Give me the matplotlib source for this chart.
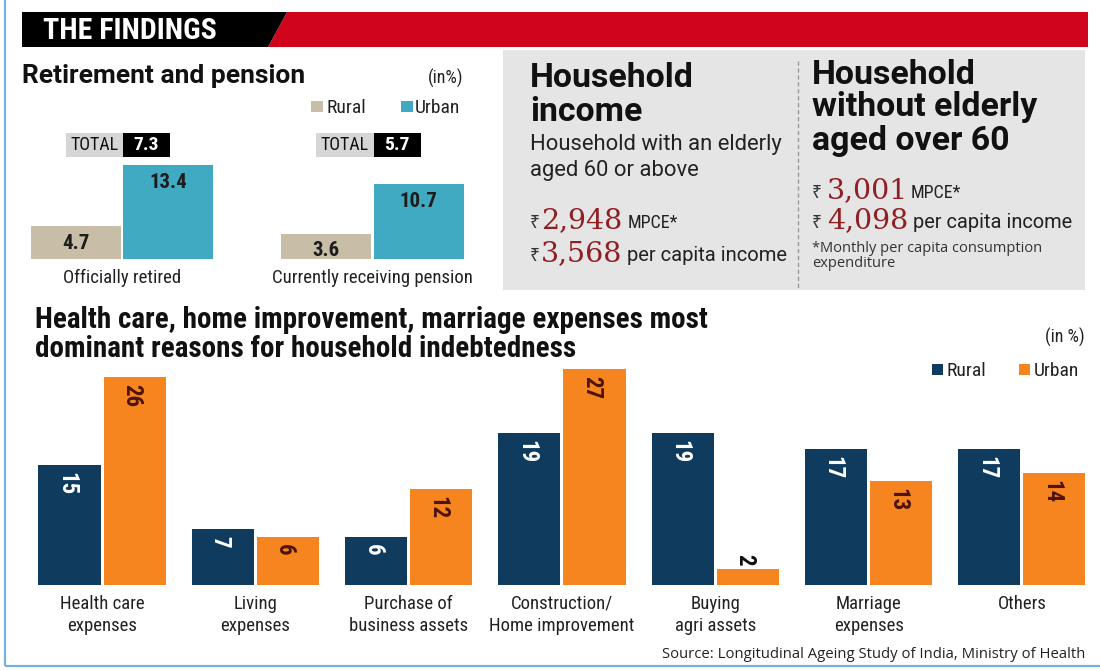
import matplotlib
matplotlib.use('Agg')
import matplotlib.pyplot as plt
from matplotlib import font_manager as fm
from matplotlib.patches import Rectangle, Polygon
import numpy as np

# ---------------- data ----------------
ret_categories = ['Officially retired', 'Currently receiving pension']
ret_rural = [4.7, 3.6]
ret_urban = [13.4, 10.7]
ret_total = [7.3, 5.7]

debt_categories = ['Health care\nexpenses', 'Living\nexpenses', 'Purchase of\nbusiness assets',
                   'Construction/\nHome improvement', 'Buying\nagri assets', 'Marriage\nexpenses', 'Others']
debt_rural = [15, 7, 6, 19, 19, 17, 17]
debt_urban = [26, 6, 12, 27, 2, 13, 14]

income_headings = ['Household\nincome', 'Household\nwithout elderly\naged over 60']
income_subtitle = 'Household with an elderly\naged 60 or above'
mpce = [2948, 3001]
per_capita_income = [3568, 4098]

# ---------------- fonts ----------------
avail = {f.name for f in fm.fontManager.ttflist}
def pick(*names):
    for n in names:
        if n in avail:
            return n
    return 'DejaVu Sans'

COND = pick('Liberation Sans Narrow', 'Roboto Condensed', 'Liberation Sans')
BOLD = pick('Roboto', 'Open Sans', 'Lato')
REG = pick('Roboto', 'Open Sans', 'Lato')
SMALL = pick('Open Sans', 'Noto Sans', 'Roboto')
SERIF = pick('DejaVu Serif', 'Liberation Serif')
RUPEE = [pick('Noto Sans', 'DejaVu Sans'), 'DejaVu Sans']

NAVY = '#0f3b5f'
ORANGE = '#f6851f'
TAN = '#c8bda6'
TEAL = '#3faac2'
RED = '#d0051c'
GRAY = '#e5e5e5'
MONEY = '#8f1f23'
URB_LBL = '#4e1407'
BORDER = '#7aaee0'

W, H = 1100, 671
fig = plt.figure(figsize=(11, 6.71), dpi=100)
fig.patch.set_facecolor('white')
bg = fig.add_axes([0, 0, 1, 1], zorder=0)
bg.set_xlim(0, W)
bg.set_ylim(H, 0)
bg.axis('off')
renderer = fig.canvas.get_renderer()

def width(t):
    return t.get_window_extent(renderer=renderer).width

def fit(t, target):
    t.set_fontsize(t.get_fontsize() * target / width(t))
    return t.get_fontsize()

def seq(x, y, parts):
    for s, kw, gap, target in parts:
        t = bg.text(x, y, s, va='baseline', ha='left', **kw)
        if target:
            fit(t, target)
        x += width(t) + gap

# ---------------- frame & header ----------------
bg.plot([5, 5], [0, 666], color=BORDER, lw=1.6, solid_capstyle='butt')
bg.plot([5, 1100], [666, 666], color=BORDER, lw=1.6, solid_capstyle='butt')
bg.add_patch(Polygon([(287, 12), (1088, 12), (1088, 47), (268, 47)], closed=True, color=RED, lw=0))
bg.add_patch(Polygon([(22, 12), (287, 12), (268, 47), (22, 47)], closed=True, color='black', lw=0))
t = bg.text(43, 39, 'THE FINDINGS', color='white', family=COND, weight='bold', fontsize=21.5, va='baseline')
fit(t, 174)

# ---------------- retirement block texts ----------------
t = bg.text(22, 83, 'Retirement and pension', family=BOLD, weight='bold', fontsize=18, va='baseline', color='#111')
fit(t, 283)
bg.text(463, 84, '(in%)', ha='right', va='baseline', family=COND, fontsize=13, color='#222')
bg.add_patch(Rectangle((311, 101), 12, 11, color=TAN, lw=0))
bg.text(327, 113, 'Rural', va='baseline', family=COND, fontsize=14, color='#222')
bg.add_patch(Rectangle((401, 101), 12, 11, color=TEAL, lw=0))
bg.text(415, 113, 'Urban', va='baseline', family=COND, fontsize=14, color='#222')

# ---------------- income panel ----------------
bg.add_patch(Rectangle((503, 50), 582, 240, color=GRAY, lw=0))
bg.plot([798, 798], [61, 288], color='#9a9a9a', lw=1, dashes=(3, 2))

head_left = income_headings[0].split('\n')
head_right = income_headings[1].split('\n')
t = bg.text(812, 116, head_right[1], family=BOLD, weight='bold', fontsize=22, va='baseline', color='#111')
hs = fit(t, 225)
bg.text(812, 84, head_right[0], family=BOLD, weight='bold', fontsize=hs, va='baseline', color='#111')
bg.text(812, 150, head_right[2], family=BOLD, weight='bold', fontsize=hs, va='baseline', color='#111')
bg.text(530, 87, head_left[0], family=BOLD, weight='bold', fontsize=hs, va='baseline', color='#111')
bg.text(530, 121, head_left[1], family=BOLD, weight='bold', fontsize=hs, va='baseline', color='#111')

sub = income_subtitle.split('\n')
t = bg.text(530, 150, sub[0], family=REG, fontsize=14.5, va='baseline', color='#222')
ss = fit(t, 251)
bg.text(530, 176, sub[1], family=REG, fontsize=ss, va='baseline', color='#222')

rup = dict(family=RUPEE, fontsize=12.5, color='#333')
num = dict(family=SERIF, fontsize=20.5, color=MONEY)
mp = dict(family=COND, fontsize=13, color='#222')
pc = dict(family=REG, fontsize=ss, color='#222')
seq(530, 228, [('₹', rup, 1, None), (f'{mpce[0]:,}', num, 5, None), ('MPCE*', mp, 0, None)])
seq(530, 261, [('₹', rup, 1, None), (f'{per_capita_income[0]:,}', num, 5, None), ('per capita income', pc, 0, 161)])
seq(812, 198, [('₹', rup, 5, None), (f'{mpce[1]:,}', num, 2, None), ('MPCE*', mp, 0, None)])
seq(812, 228, [('₹', rup, 5, None), (f'{per_capita_income[1]:,}', num, 5, None), ('per capita income', pc, 0, 160)])

t = bg.text(812, 252, '*Monthly per capita consumption', family=SMALL, fontsize=9.5, va='baseline', color='#333')
fs = fit(t, 233)
bg.text(812, 267, 'expenditure', family=SMALL, fontsize=fs, va='baseline', color='#333')

# ---------------- retirement bar chart ----------------
ax1 = fig.add_axes([22 / W, (H - 259) / H, 458 / W, 159 / H], zorder=2)
ax1.set_facecolor('none')
x1 = np.arange(len(ret_categories))
off1, bw1 = 0.1846, 0.361
ax1.bar(x1 - off1, ret_rural, bw1, color=TAN, lw=0)
ax1.bar(x1 + off1, ret_urban, bw1, color=TEAL, lw=0)
ax1.set_xlim(-0.3992, 1.4291)
ax1.set_ylim(0, 22.71)
for s in ax1.spines.values():
    s.set_visible(False)
ax1.set_yticks([])
ax1.set_xticks(x1, ret_categories, family=COND, fontsize=13.5, color='#222')
ax1.tick_params(axis='x', length=0, pad=7)
for i in range(len(x1)):
    for xo, v in ((-off1, ret_rural[i]), (off1, ret_urban[i])):
        ax1.text(i + xo, v - 17 / 7, f'{v}', ha='center', va='center', family=COND,
                 weight='bold', fontsize=15, color='#1c1c1c')
    ax1.add_patch(Rectangle((i - 0.224, 14.57), 0.228, 3.43, color='#d6d6d6', lw=0))
    ax1.add_patch(Rectangle((i + 0.004, 14.57), 0.188, 3.43, color='black', lw=0))
    ax1.text(i - 0.11, 16.28, 'TOTAL', ha='center', va='center', family=COND, fontsize=13, color='#111')
    ax1.text(i + 0.098, 16.28, f'{ret_total[i]}', ha='center', va='center', family=COND,
             weight='bold', fontsize=14, color='white')

# ---------------- debt bar chart ----------------
lines = ['Health care, home improvement, marriage expenses most',
         'dominant reasons for household indebtedness']
t = bg.text(35, 328, lines[0], family=COND, weight='bold', fontsize=21, va='baseline', color='#111')
ts = fit(t, 672)
bg.text(35, 357, lines[1], family=COND, weight='bold', fontsize=ts, va='baseline', color='#111')
bg.text(1085, 343, '(in %)', ha='right', va='baseline', family=COND, fontsize=13, color='#222')
bg.add_patch(Rectangle((932, 364), 11, 11, color=NAVY, lw=0))
bg.text(946, 376, 'Rural', va='baseline', family=COND, fontsize=14, color='#222')
bg.add_patch(Rectangle((1019, 364), 11, 11, color=ORANGE, lw=0))
bg.text(1034, 376, 'Urban', va='baseline', family=COND, fontsize=14, color='#222')

ax2 = fig.add_axes([30 / W, (H - 585) / H, 1060 / W, 225 / H], zorder=2)
ax2.set_facecolor('none')
x2 = np.arange(len(debt_categories))
off2, bw2 = 0.212, 0.4044
ax2.bar(x2 - off2, debt_rural, bw2, color=NAVY, lw=0)
ax2.bar(x2 + off2, debt_urban, bw2, color=ORANGE, lw=0)
ax2.set_xlim(-0.4696, 6.4436)
ax2.set_ylim(0, 28.125)
for s in ax2.spines.values():
    s.set_visible(False)
ax2.set_yticks([])
ax2.set_xticks(x2, debt_categories, family=COND, fontsize=13.5, color='#222', linespacing=1.3)
ax2.tick_params(axis='x', length=0, pad=7)
for i in range(len(x2)):
    v = debt_rural[i]
    ax2.text(i - off2 - 0.02, v - 0.875, str(v), rotation=270, ha='center', va='top',
             family=COND, weight='bold', fontsize=16.5, color='white')
    v = debt_urban[i]
    if v >= 4:
        ax2.text(i + off2 - 0.02, v - 0.875, str(v), rotation=270, ha='center', va='top',
                 family=COND, weight='bold', fontsize=16.5, color=URB_LBL)
    else:
        ax2.text(i + off2 - 0.02, v + 0.5, str(v), rotation=270, ha='center', va='bottom',
                 family=COND, weight='bold', fontsize=16.5, color='#111')

t = bg.text(1085, 658, 'Source: Longitudinal Ageing Study of India, Ministry of Health',
            ha='right', va='baseline', family=SMALL, fontsize=9.5, color='#222')
fit(t, 425)

fig.savefig('out.png', dpi=100)
